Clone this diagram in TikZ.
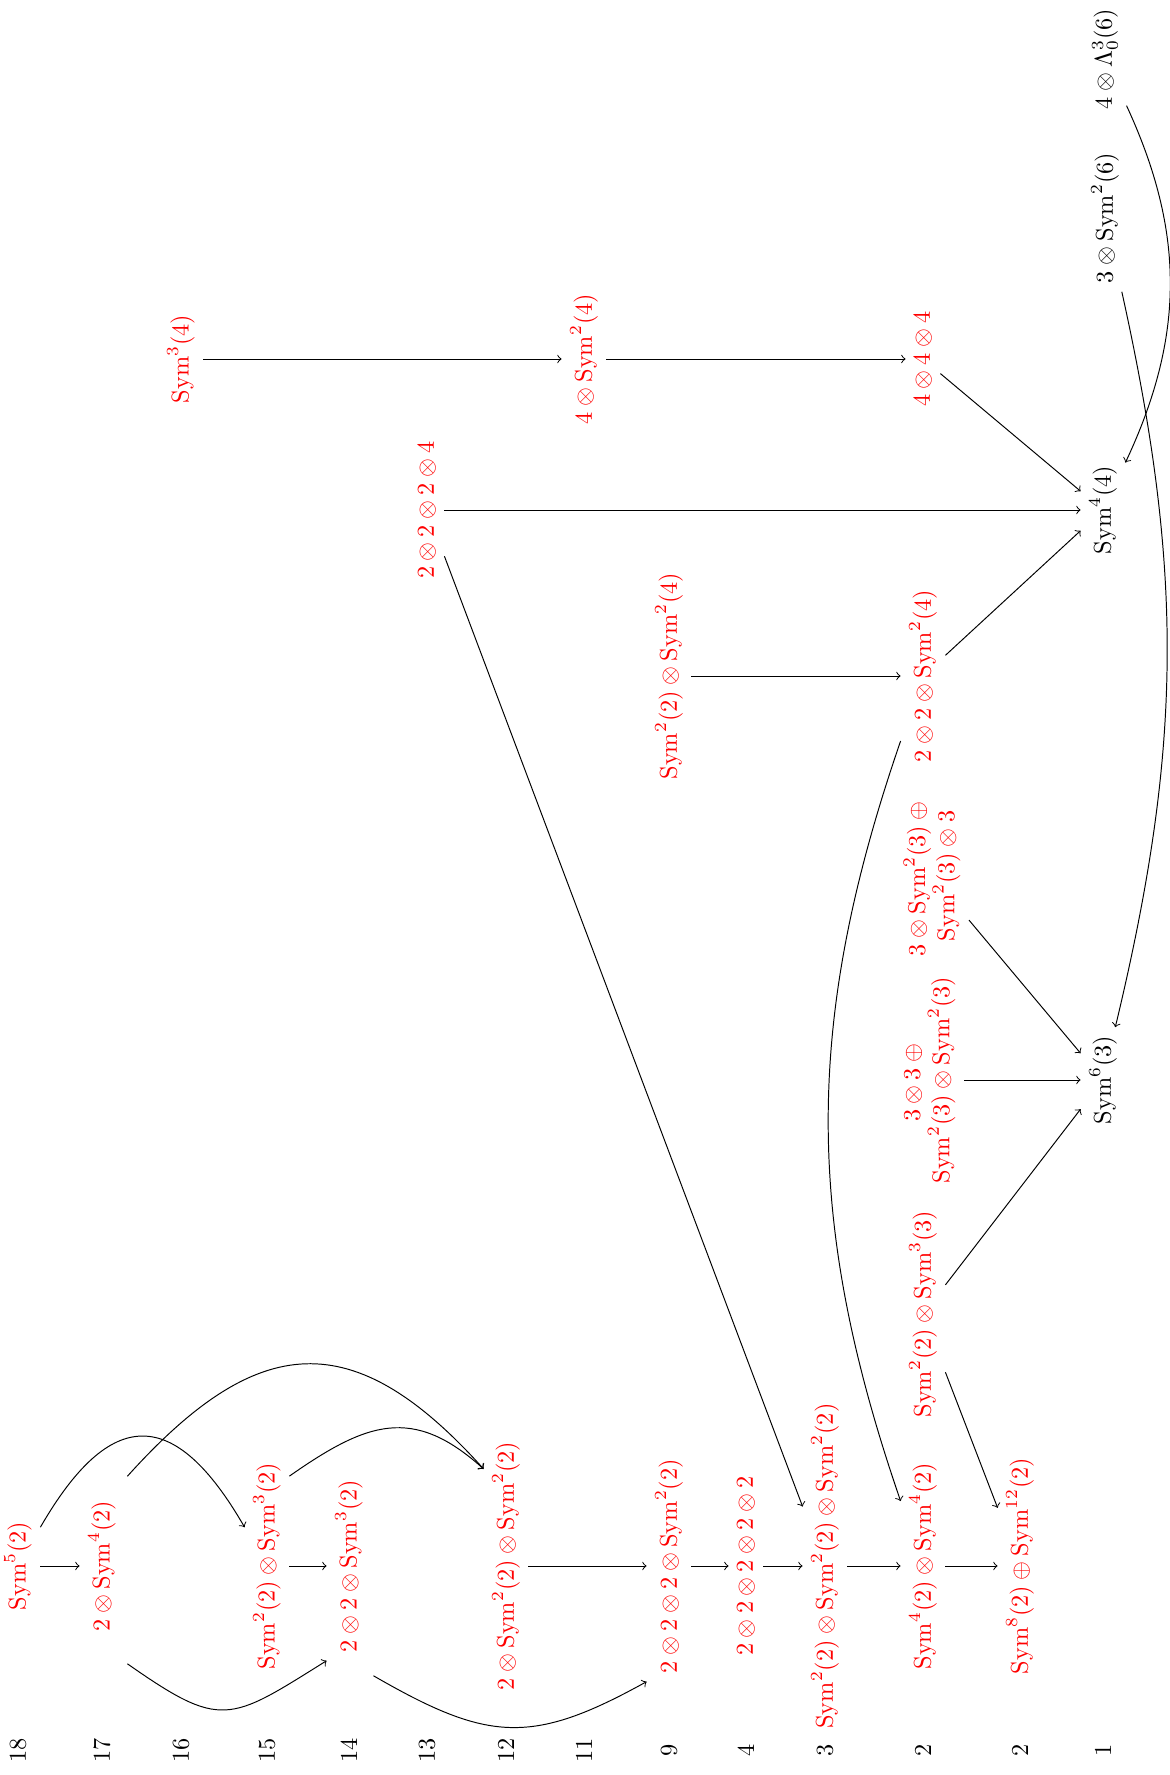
\documentclass[tikz,border=0pt]{standalone}
\usepackage{amsmath, amssymb}
\usepackage{tikz}
\newcommand{\Sym}{\mathrm{Sym}}

\begin{document}
\begin{tikzpicture}[x=0.4115pt, y=0.4115pt, every node/.style={rotate=90}, rep/.style={text=red}]
\useasboundingbox (0,0) rectangle (1169,-1775);

% 次元
\node (d18) at (18,-1750) {18};
\node (d17) at (102,-1750) {17};
\node (d16) at (181,-1750) {16};
\node (d15) at (267,-1750) {15};
\node (d14) at (349,-1750) {14};
\node (d13) at (427,-1750) {13};
\node (d12) at (506,-1750) {12};
\node (d11) at (584,-1750) {11};
\node (d9) at (669,-1750) {9};
\node (d4) at (746,-1750) {4};
\node (d3) at (825,-1750) {3};
\node (d2a) at (923,-1750) {2};
\node (d2b) at (1020,-1750) {2};
\node (d1) at (1103,-1750) {1};

% Sym^5(2) からの列
\node[rep] (s18) at (18,-1566) {$\Sym^5(2)$};
\node[rep] (s17) at (102,-1566) {$2\otimes\Sym^4(2)$};
\node[rep] (s15) at (267,-1566) {$\Sym^2(2)\otimes\Sym^3(2)$};
\node[rep] (s14) at (349,-1566) {$2\otimes 2\otimes\Sym^3(2)$};
\node[rep] (s12) at (506,-1566) {$2\otimes\Sym^2(2)\otimes\Sym^2(2)$};
\node[rep] (s9) at (669,-1566) {$2\otimes 2\otimes 2\otimes\Sym^2(2)$};
\node[rep] (s4) at (746,-1566) {$2\otimes 2\otimes 2\otimes 2\otimes 2$};
\node[rep] (s3) at (825,-1566) {$\Sym^2(2)\otimes\Sym^2(2)\otimes\Sym^2(2)$};
\node[rep] (s2a) at (923,-1566) {$\Sym^4(2)\otimes\Sym^4(2)$};
\node[rep] (s2b) at (1020,-1566) {$\Sym^8(2)\oplus\Sym^{12}(2)$};

\draw[->] (s18) -- (s17);
\draw[->] (s15) -- (s14);
\draw[->] (s12) -- (s9);
\draw[->] (s9) -- (s4);
\draw[->] (s4) -- (s3);
\draw[->] (s3) -- (s2a);
\draw[->] (s2a) -- (s2b);
\draw[->] (s18) .. controls +(60:185) and +(120:185) .. (s15);
\draw[->] ([shift={(3,16)}]s17.south east) .. controls +(48:195) and +(132:195) .. (s12.13);
\draw[->] (s15.-14) .. controls +(35:95) and +(138:95) .. (s12.13);
\draw[->] ([shift={(3,-24)}]s17.south west) .. controls +(-35:115) and +(212:115) .. (s14.north west);
\draw[->] ([shift={(2,-15)}]s14.south west) .. controls +(-30:132) and +(209:132) .. (s9.north west);

% Sym^4(4) へ
\node[rep] (q16) at (181,-359) {$\Sym^3(4)$};
\node[rep] (q11) at (584,-359) {$4\otimes\Sym^2(4)$};
\node[rep] (q2) at (923,-359) {$4\otimes 4\otimes 4$};
\node[rep] (q13) at (427,-510) {$2\otimes 2\otimes 2\otimes 4$};
\node (q1) at (1103,-510) {$\Sym^4(4)$};
\node[rep] (p9) at (669,-676) {$\Sym^2(2)\otimes\Sym^2(4)$};
\node[rep] (p2) at (923,-676) {$2\otimes 2\otimes\Sym^2(4)$};
\node (u1) at (1105,-218) {$3\otimes\Sym^2(6)$};
\node (v1) at (1105,-59) {$4\otimes\Lambda^3_0(6)$};

\draw[->] (q16) -- (q11);
\draw[->] (q11) -- (q2);
\draw[->] (q2) -- (q1);
\draw[->] (q13) -- (q1);
\draw[->] (q13) -- (s3);
\draw[->] (p9) -- (p2);
\draw[->] (p2) -- (q1);
\draw[->] (p2) to[bend right=19] (s2a);
\draw[->] (v1) to[bend left=25] (q1);

% Sym^6(3) へ
\node[rep, align=center] (t2a) at (932,-876) {$3\otimes\Sym^2(3)\oplus{}$\\$\Sym^2(3)\otimes 3$};
\node[rep, align=center] (t2b) at (930,-1080) {$3\otimes 3\oplus{}$\\$\Sym^2(3)\otimes\Sym^2(3)$};
\node[rep] (t2c) at (923,-1314) {$\Sym^2(2)\otimes\Sym^3(3)$};
\node (t1) at (1103,-1080) {$\Sym^6(3)$};

\draw[->] (t2a) -- (t1);
\draw[->] (t2b) -- (t1);
\draw[->] (t2c) -- (t1);
\draw[->] (t2c) -- (s2b);
\draw[->] (u1) to[bend left=13] (t1);
\end{tikzpicture}
\end{document}
